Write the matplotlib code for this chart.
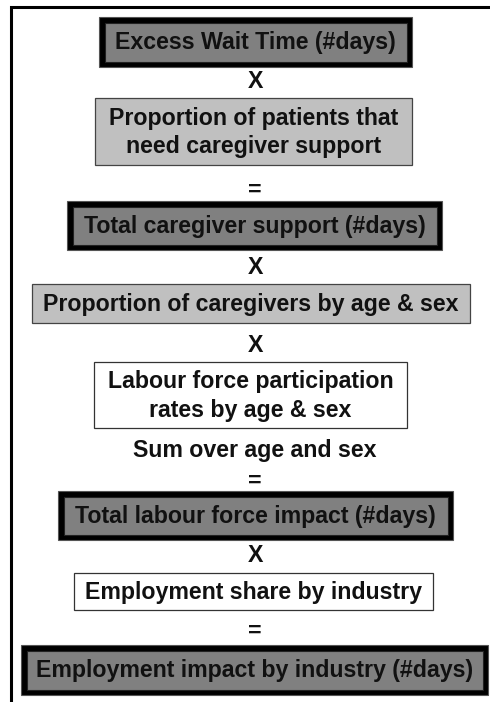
import matplotlib
matplotlib.use("Agg")
import matplotlib.pyplot as plt
from matplotlib.patches import Rectangle

plt.rcParams['font.family'] = ['Liberation Sans', 'DejaVu Sans']

# Content of the flowchart
box_labels = [
    "Excess Wait Time (#days)",
    "Proportion of patients that\nneed caregiver support",
    "Total caregiver support (#days)",
    "Proportion of caregivers by age & sex",
    "Labour force participation\nrates by age & sex",
    "Total labour force impact (#days)",
    "Employment share by industry",
    "Employment impact by industry (#days)",
]
box_kinds = ["total", "input", "total", "input", "plain", "total", "plain", "total"]
operator_labels = ["X", "=", "X", "X", "Sum over age and sex", "=", "X", "="]

# Layout (pixel coordinates: x0, x1, y0, y1)
box_extents = [
    (99, 412, 17, 67),
    (95, 412, 98, 165),
    (67, 442, 201, 250),
    (32, 470, 284, 323),
    (94, 407, 362, 428),
    (58, 453, 491, 540),
    (74, 433, 573, 610),
    (21, 488, 645, 695),
]
operator_pos = [(255, 82), (255, 190), (255, 267), (255, 345), (255, 450), (255, 481), (255, 555), (255, 631)]

W, H = 490, 702
fig = plt.figure(figsize=(W / 100, H / 100), dpi=100)
ax = fig.add_axes([0, 0, 1, 1])
ax.set_xlim(0, W)
ax.set_ylim(H, 0)
ax.axis('off')

# frame lines
ax.plot([11, 11, W], [H, 7, 7], color='black', lw=2.2, solid_capstyle='projecting', solid_joinstyle='miter')

fs = 16.7
for label, kind, (x0, x1, y0, y1) in zip(box_labels, box_kinds, box_extents):
    if kind == "total":
        ax.add_patch(Rectangle((x0, y0), x1 - x0, y1 - y0, facecolor='black', edgecolor='#555555', lw=0.8))
        ins = 5.5
        ax.add_patch(Rectangle((x0 + ins, y0 + ins), x1 - x0 - 2 * ins, y1 - y0 - 2 * ins,
                               facecolor='#808080', edgecolor='#222222', lw=0.8))
    elif kind == "input":
        ax.add_patch(Rectangle((x0, y0), x1 - x0, y1 - y0, facecolor='#c0c0c0', edgecolor='#444444', lw=0.9))
    else:
        ax.add_patch(Rectangle((x0, y0), x1 - x0, y1 - y0, facecolor='white', edgecolor='#333333', lw=0.9))
    ax.text((x0 + x1) / 2, (y0 + y1) / 2 + 1, label, ha='center', va='center', fontsize=fs,
            fontweight='bold', color='#111111', linespacing=1.33)

for label, (x, y) in zip(operator_labels, operator_pos):
    ax.text(x, y, label, ha='center', va='center', fontsize=fs, fontweight='bold', color='#111111')

fig.savefig("out.png", dpi=100)
